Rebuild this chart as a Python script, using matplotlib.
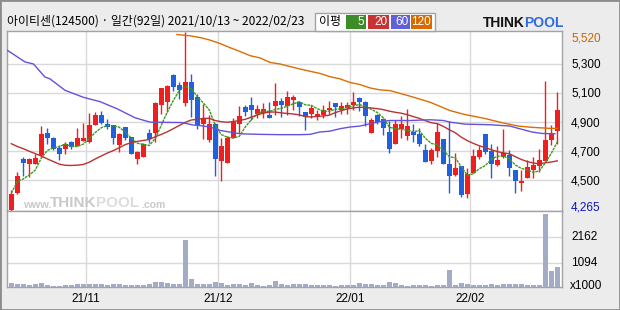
import numpy as np
import pandas as pd
import matplotlib
matplotlib.use('Agg')
import matplotlib.pyplot as plt
from matplotlib.patches import Rectangle

# ---------------- data ----------------
opens = [4298, 4416, 4648, 4614, 4614, 4673, 4823, 4793, 4723, 4716,
         4764, 4736, 4773, 4764, 4882, 4952, 4889, 4877, 4745, 4864,
         4795, 4648, 4661, 4823, 4825, 5014, 5036, 5225, 5152, 5030,
         5177, 5072, 4884, 4775, 4890, 4634, 4619, 4790, 4884, 5005,
         5020, 4958, 4965, 4952, 5010, 5043, 5009, 5052, 5036, 4968,
         4957, 4939, 4952, 4980, 5032, 4980, 4998, 5014, 5066, 5041,
         4825, 4952, 4923, 4830, 4752, 4855, 4802, 4832, 4816, 4711,
         4634, 4702, 4782, 4611, 4536, 4598, 4407, 4552, 4661, 4816,
         4702, 4604, 4661, 4673, 4570, 4484, 4520, 4570, 4598, 4634,
         4775, 4839]
highs = [4435, 4560, 4661, 4655, 4684, 4870, 4861, 4800, 4741, 4764,
         4770, 4861, 4895, 4961, 4968, 4975, 4920, 4880, 4825, 4866,
         4798, 4700, 4755, 4850, 5039, 5136, 5152, 5228, 5177, 5520,
         5232, 5090, 5027, 4952, 4893, 4788, 4805, 4925, 5012, 5014,
         5069, 5020, 5034, 5035, 5165, 5063, 5116, 5084, 5038, 4970,
         5014, 4984, 5020, 5043, 5034, 5041, 5041, 5109, 5075, 5043,
         4930, 4955, 4925, 4907, 4916, 4939, 4991, 4884, 4861, 4752,
         4725, 4893, 4784, 4907, 4691, 4600, 4589, 4718, 4734, 4818,
         4748, 4734, 4850, 4707, 4572, 4575, 4640, 4661, 4718, 5180,
         4877, 5104]
lows = [4290, 4410, 4532, 4525, 4612, 4661, 4752, 4712, 4641, 4684,
        4716, 4734, 4768, 4759, 4877, 4884, 4855, 4752, 4695, 4775,
        4680, 4614, 4659, 4759, 4764, 4957, 4968, 5111, 5059, 5009,
        4934, 4855, 4782, 4763, 4532, 4498, 4618, 4788, 4822, 4941,
        4912, 4928, 4928, 4926, 4952, 4937, 4952, 4980, 4939, 4843,
        4930, 4911, 4930, 4957, 4934, 4957, 4957, 4980, 4975, 4873,
        4823, 4884, 4809, 4689, 4748, 4791, 4775, 4763, 4734, 4625,
        4616, 4661, 4614, 4411, 4534, 4388, 4377, 4548, 4650, 4679,
        4518, 4602, 4657, 4532, 4411, 4429, 4518, 4520, 4559, 4632,
        4741, 4752]
closes = [4405, 4534, 4620, 4648, 4652, 4816, 4791, 4714, 4682, 4748,
          4730, 4793, 4793, 4877, 4952, 4893, 4866, 4791, 4820, 4791,
          4682, 4693, 4752, 4782, 5032, 5132, 5150, 5143, 5123, 5177,
          5048, 4877, 4930, 4884, 4648, 4733, 4790, 4898, 4944, 4969,
          4981, 4992, 4993, 4928, 5042, 5015, 5070, 5070, 5002, 4934,
          4998, 4957, 4986, 4998, 5002, 5007, 5014, 5041, 5036, 4939,
          4911, 4900, 4859, 4716, 4889, 4889, 4870, 4809, 4752, 4627,
          4711, 4830, 4616, 4532, 4589, 4400, 4543, 4666, 4707, 4695,
          4616, 4643, 4688, 4589, 4498, 4495, 4593, 4604, 4638, 4775,
          4820, 4986]
volumes = [260, 218, 218, 177, 218, 260, 177, 149, 149, 177,
           177, 218, 218, 218, 218, 218, 191, 218, 218, 191,
           191, 191, 191, 218, 302, 302, 260, 218, 218, 2047,
           440, 218, 232, 232, 302, 260, 191, 218, 218, 191,
           260, 177, 149, 191, 329, 232, 191, 218, 232, 218,
           191, 177, 177, 177, 149, 177, 177, 191, 260, 218,
           218, 177, 177, 302, 260, 177, 149, 177, 177, 177,
           149, 177, 177, 800, 177, 260, 218, 191, 191, 191,
           232, 177, 232, 232, 232, 232, 177, 177, 177, 3127,
           745, 925]

# moving-average values (prior history not shown)
ma5_head = [4413, 4493, 4511, 4538]
ma20_head = [4752, 4733, 4718, 4700, 4684, 4668, 4648, 4630, 4612, 4604,
             4603, 4605, 4610, 4625, 4648, 4668, 4688, 4705, 4725]
ma60_x = [-0.6, 2.3, 3.7, 5.6, 6.45, 8.95, 12, 14.8, 17.6, 20.6, 23.1, 25.9,
          28.4, 30.3, 31.4, 33.1, 34.8, 36.4, 38.1, 41.5, 44.8, 48.1, 49.8,
          51.4, 53.1, 54.8, 56.4, 58.1, 59.8, 61.4, 63.1, 66.5, 69.8, 72,
          73.1, 75.6, 79.8, 83.1, 84.5, 86.8, 88.5, 90.6]
ma60_y = [5390, 5312, 5298, 5209, 5196, 5118, 5070, 5040, 4992, 4930, 4900, 4898,
          4897, 4880, 4877, 4866, 4843, 4832, 4820, 4816, 4814, 4814, 4816,
          4832, 4838, 4855, 4866, 4873, 4889, 4903, 4911, 4911, 4916, 4911,
          4900, 4886, 4882, 4873, 4857, 4832, 4822, 4820]
ma120_x = [27.6, 29.8, 31.5, 33.1, 34.8, 36.4, 38.1, 39.8, 41.5, 43.1, 44.8,
           46.5, 48.1, 49.8, 51.4, 53.1, 54.8, 56.4, 58.1, 59.8, 61.4, 63.1,
           66.5, 69.8, 73.1, 75.6, 78.9, 82.3, 84.5, 86.8, 89.8, 91]
ma120_y = [5500, 5491, 5479, 5462, 5438, 5411, 5384, 5355, 5339, 5309, 5298,
           5280, 5264, 5248, 5234, 5211, 5196, 5172, 5157, 5134, 5121, 5116,
           5077, 5036, 4979, 4952, 4925, 4891, 4873, 4864, 4857, 4857]

month_idx = [13, 35, 57, 77]
month_labels = ['21/11', '21/12', '22/01', '22/02']
price_ticks = [4500, 4700, 4900, 5100, 5300]
price_max_label = '5,520'
price_min_label = '4,265'
vol_ticks = [1094, 2162]
title = '아이티센(124500) · 일간(92일) 2021/10/13 ~ 2022/02/23'
legend_items = ['5', '20', '60', '120']

# ---------------- styling ----------------
UP = '#f01e1e'
DOWN = '#1f5fe0'
C5, C20, C60, C120 = '#3c9a1e', '#b83232', '#6452dc', '#dc6e00'
GRID = '#d9d9d9'
FRAME = '#a3a3a3'
BG = '#ececec'
VOLC = '#a3acc4'
CJK = ['Noto Sans CJK KR', 'DejaVu Sans']
NUMF = ['Liberation Sans', 'DejaVu Sans']

W, H = 620, 310
fig = plt.figure(figsize=(W / 100, H / 100), dpi=100, facecolor=BG)

def fx(px):
    return px / W

def fy(py):
    return 1 - py / H

L, R, T, MID, B = 7.3, 562.3, 31.3, 211.3, 287.3
ax = fig.add_axes([fx(L), fy(MID), fx(R - L), (MID - T) / H])
axv = fig.add_axes([fx(L), fy(B), fx(R - L), (B - MID) / H])

n = len(closes)
idx = np.arange(n)
o = np.array(opens); c = np.array(closes)
hi = np.array(highs); lo = np.array(lows)
up = c >= o
cols = np.where(up, UP, DOWN)

for a in (ax, axv):
    a.set_facecolor('white')
    a.set_xlim(-0.667, 91.83)
    for s in a.spines.values():
        s.set_color(FRAME)
        s.set_linewidth(1.0)
    a.set_xticks([m - 0.5 for m in month_idx])
    a.grid(True, color=GRID, linewidth=1.0)
    a.set_axisbelow(True)
    a.tick_params(length=0, labelbottom=False, labelleft=False, labelright=False)

# price panel
ax.set_ylim(4289, 5522)
ax.set_yticks(price_ticks)
ax.vlines(idx, lo, hi, colors=cols, linewidth=1.0, zorder=3)
body_lo = np.minimum(o, c)
body_h = np.maximum(np.abs(c - o), 8)
ax.bar(idx, body_h, bottom=body_lo, width=0.78, color=cols, linewidth=0, zorder=4)

ma5 = pd.Series(closes).rolling(5).mean().to_numpy()
ma5[:len(ma5_head)] = ma5_head
ma20 = pd.Series(closes).rolling(20).mean().to_numpy()
ma20[:len(ma20_head)] = ma20_head
ax.plot(idx, ma5, color=C5, linewidth=1.0, linestyle=(0, (2, 0.6)), zorder=5)
ax.plot(idx, ma20, color=C20, linewidth=1.0, zorder=5)
ax.plot(ma60_x, ma60_y, color=C60, linewidth=1.0, zorder=5)
ax.plot(ma120_x, ma120_y, color=C120, linewidth=1.0, zorder=5)

# watermark  www.THINKPOOL.com
wm = '#c9c9c9'
fig.text(fx(23), fy(205), 'www.', fontsize=8, color=wm, fontweight='bold', va='center', ha='left', family=NUMF)
fig.text(fx(96), fy(203), 'THINK', fontsize=11, color=wm, fontweight='bold', va='center', ha='right', family=NUMF)
fig.text(fx(96), fy(203), 'POOL', fontsize=11, color='#dcdcdc', fontweight='bold', va='center', ha='left', family=NUMF)
fig.text(fx(141), fy(205), '.com', fontsize=7.5, color=wm, fontweight='bold', va='center', ha='left', family=NUMF)

# volume panel
axv.set_ylim(80, 3242)
axv.set_yticks(vol_ticks)
axv.bar(idx, volumes, width=0.78, color=VOLC, linewidth=0, zorder=3)

# right labels
lab_x = fx(571)
for p in price_ticks:
    ypix = MID - (p - 4289) / (5522 - 4289) * (MID - T)
    fig.text(lab_x, fy(ypix + 1), f'{p:,}', fontsize=8.5, family=NUMF, va='center', ha='left', color='black')
fig.text(lab_x, fy(38.3), price_max_label, fontsize=8.5, family=NUMF, va='center', color='#c86400')
fig.text(lab_x, fy(207.7), price_min_label, fontsize=8.5, family=NUMF, va='center', color='#0a14c8')
for v in vol_ticks:
    ypix = B - (v - 80) / (3242 - 80) * (B - MID)
    fig.text(lab_x, fy(ypix), str(v), fontsize=8.5, family=NUMF, va='center', color='black')
fig.text(lab_x - fx(1), fy(285.7), 'x1000', fontsize=8.5, family=NUMF, va='center', color='black')

# month labels
for m, lab in zip(month_idx, month_labels):
    xpix = 11.3 + 6.0 * (m - 0.5)
    fig.text(fx(xpix), fy(298.5), lab, fontsize=8.5, family=NUMF, ha='center', va='center', color='black')

# title
fig.text(fx(7), fy(21.5), title, fontsize=8.6, family=CJK, va='center', ha='left', color='black')

# legend box
fig.patches.append(Rectangle((fx(315), fy(31)), fx(120), 18 / H, transform=fig.transFigure,
                             facecolor='white', edgecolor=FRAME, linewidth=1.0))
fig.text(fx(319), fy(22), '이평', fontsize=8.6, family=CJK, va='center', ha='left')
boxes = [(346, 366), (368, 389), (391, 410), (411, 432)]
box_cols = ['#3c8c28', '#c83232', '#6060d8', '#d86a00']
for (x0, x1), bc, txt in zip(boxes, box_cols, legend_items):
    fig.patches.append(Rectangle((fx(x0), fy(29)), fx(x1 - x0), 14 / H, transform=fig.transFigure,
                                 facecolor=bc, edgecolor='none'))
    fig.text(fx(x1 - 1.5), fy(22), txt, fontsize=8.5, family=NUMF, va='center', ha='right', color='white')

# logo
fig.text(fx(525), fy(23), 'THINK', fontsize=10, family=NUMF, fontweight='bold',
         va='center', ha='right', color='#111111')
fig.text(fx(524), fy(23), 'POOL', fontsize=10, family=NUMF, fontweight='bold',
         va='center', ha='left', color='#2f6ae0')

# outer border
fig.patches.append(Rectangle((0, 0), 1, 1, transform=fig.transFigure, facecolor='none',
                             edgecolor='#8c8c8c', linewidth=2.0))

fig.savefig('out.png', dpi=100, facecolor=BG)
